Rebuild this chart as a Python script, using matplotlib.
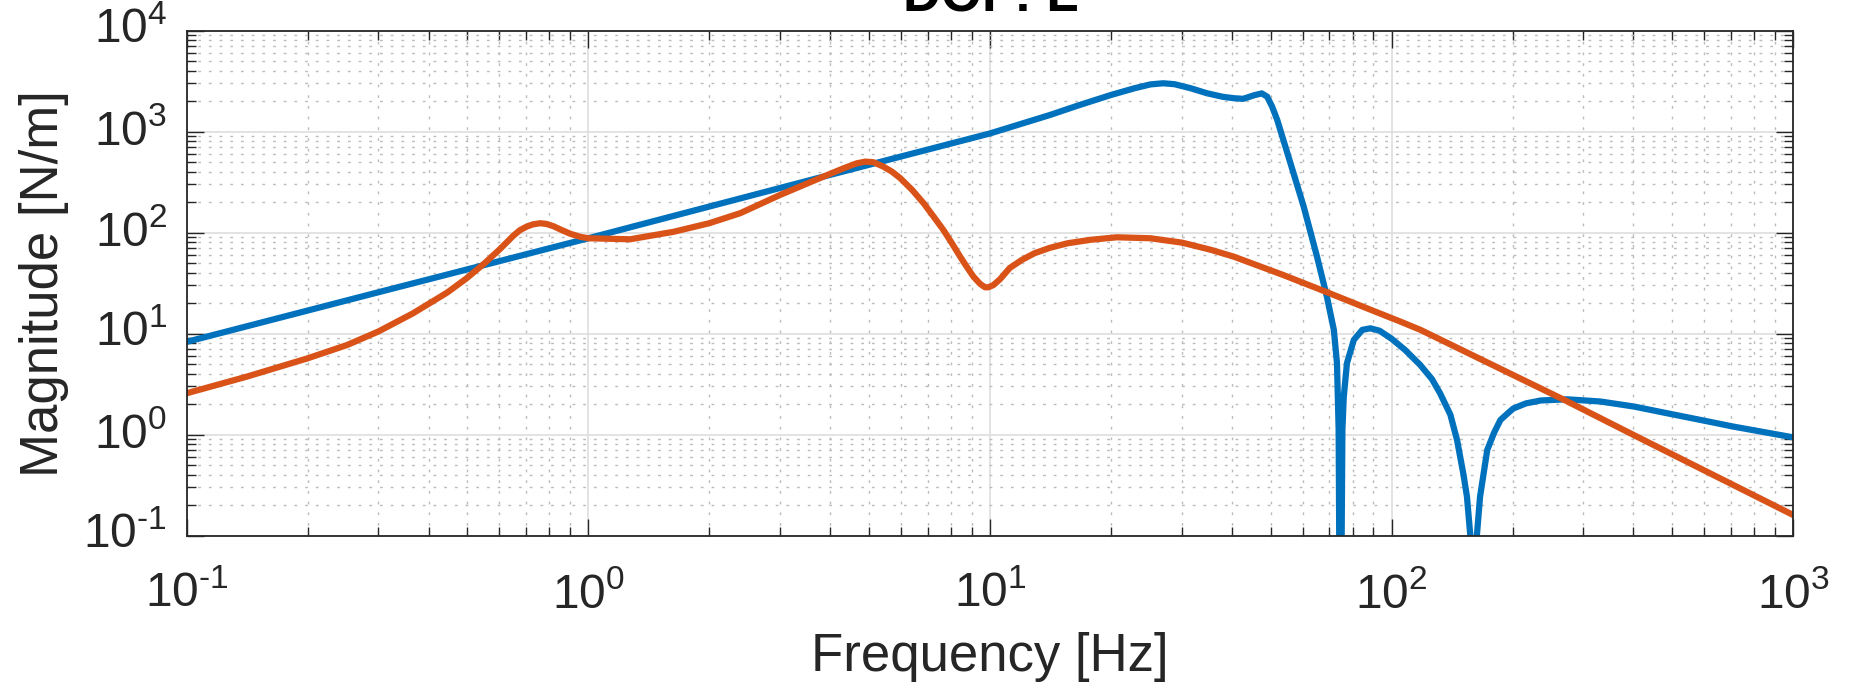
import matplotlib
matplotlib.use('Agg')
import matplotlib.pyplot as plt
from matplotlib.ticker import LogLocator, NullFormatter, FuncFormatter
import math

plt.rcParams['font.family'] = ['Liberation Sans', 'DejaVu Sans']
plt.rcParams['mathtext.fontset'] = 'custom'
plt.rcParams['mathtext.rm'] = 'Liberation Sans'
plt.rcParams['mathtext.it'] = 'Liberation Sans:italic'
plt.rcParams['mathtext.bf'] = 'Liberation Sans:bold'
plt.rcParams['lines.scale_dashes'] = False

# values (Hz, N/m); notch bottoms fall below the axis
freq_blue = [0.1, 0.3, 1.0, 3.85, 10, 14.1, 16.6, 20, 22.9, 25.1, 27, 28.8,
             31.6, 34.7, 38, 40.5, 42.7, 45.4, 47.5, 49, 50.4, 51.9, 56, 60.4,
             65.2, 69, 71.8, 73.1, 73.8, 74.5, 75.4, 76.0, 77.4, 80.5, 84.5,
             88.5, 93.3, 100, 108, 117.8, 126, 132, 140, 145.5, 151, 154, 157,
             160, 163, 166, 173, 180, 186.6, 195, 201, 216, 235, 273.5, 331,
             401, 485, 587, 711, 1000]
mag_blue = [8.3, 25.7, 88, 359, 960, 1462, 1820, 2307, 2690, 2938, 3013, 2951,
            2690, 2399, 2213, 2143, 2113, 2290, 2393, 2218, 1770, 1306, 486, 181,
            57.8, 23.2, 10.9, 5.1, 1.11, 0.001, 1.11, 2.38, 5.1, 8.67, 10.9,
            11.3, 10.7, 8.9, 6.9, 4.9, 3.55, 2.57, 1.58, 0.885, 0.4, 0.243, 0.1,
            0.001, 0.1, 0.243, 0.706, 1.05, 1.40, 1.64, 1.82, 2.04, 2.18, 2.24, 2.13,
            1.90, 1.63, 1.40, 1.20, 0.94]

freq_red = [0.1, 0.141, 0.2, 0.251, 0.3, 0.366, 0.445, 0.498, 0.553, 0.603,
            0.650, 0.676, 0.703, 0.729, 0.759, 0.787, 0.818, 0.859, 0.902, 0.955,
            1.0, 1.27, 1.63, 2.0, 2.39, 3.0, 3.85, 4.32, 4.66, 4.89, 5.13, 5.43,
            5.70, 5.98, 6.40, 6.84, 7.24, 7.66, 8.04, 8.43, 8.77, 9.10, 9.46,
            9.72, 9.91, 10.2, 10.6, 11.2, 12.0, 12.9, 14.1, 15.6, 17.8, 20.7,
            25.1, 30.1, 35.5, 40.5, 53.8, 68.4, 86.9, 105, 118, 269, 401, 1000]
mag_red = [2.57, 3.75, 5.70, 7.73, 10.5, 15.9, 25.5, 35.4, 50.2, 69,
           93, 106, 115, 121, 124, 122, 116, 106, 97.5, 91,
           88, 86, 102, 124, 156, 236, 359, 434, 486, 505, 498, 450,
           402, 346, 265, 195, 144, 106, 78.5, 57.8, 45.4, 36.6, 31.0,
           28.8, 28.8, 30.3, 34.7, 44.7, 53.7, 62.5, 70.8, 78.5, 85, 90,
           88, 79.6, 67.6, 57.8, 38, 26.1, 17.8, 13.2, 10.9, 2.21, 0.99, 0.16]


def decade_label(v, pos):
    e = int(round(math.log10(v)))
    s = str(e).replace('-', '\u2010')
    return r'$\mathregular{10^{%s}}$' % s


fig = plt.figure(figsize=(18.52, 6.92), dpi=100)
ax = fig.add_axes([0.1008, 0.2259, 0.8675, 0.7298])

ax.plot(freq_blue, mag_blue, color='#0072BD', lw=4.5)
ax.plot(freq_red, mag_red, color='#D95319', lw=4.5)

ax.set_xscale('log')
ax.set_yscale('log')
ax.set_xlim(0.1, 1000)
ax.set_ylim(0.1, 1e4)

ax.xaxis.set_major_locator(LogLocator(base=10, numticks=20))
ax.yaxis.set_major_locator(LogLocator(base=10, numticks=20))
ax.xaxis.set_minor_locator(LogLocator(base=10, subs=range(2, 10), numticks=50))
ax.yaxis.set_minor_locator(LogLocator(base=10, subs=range(2, 10), numticks=50))
ax.xaxis.set_major_formatter(FuncFormatter(decade_label))
ax.yaxis.set_major_formatter(FuncFormatter(decade_label))
ax.xaxis.set_minor_formatter(NullFormatter())
ax.yaxis.set_minor_formatter(NullFormatter())

ax.set_axisbelow(True)
ax.grid(which='major', color='#dedede', lw=1.2, ls='-')
ax.grid(which='minor', color='#bcbcbc', lw=1.0, ls=(0, (2, 5.7)))

ax.tick_params(which='both', direction='in', top=True, right=True,
               color='#262626', width=1.0, labelcolor='#262626')
ax.tick_params(which='major', length=12, labelsize=34.5)
ax.tick_params(axis='x', which='major', pad=26)
ax.tick_params(axis='y', which='major', pad=14)
ax.tick_params(which='minor', length=6.3)
for lab in ax.get_yticklabels():
    lab.set_verticalalignment('center')
for sp in ax.spines.values():
    sp.set_color('#262626')
    sp.set_linewidth(1.3)

ax.set_xlabel('Frequency [Hz]', fontsize=38, color='#262626')
ax.set_ylabel('Magnitude [N/m]', fontsize=38, color='#262626')
ax.xaxis.set_label_coords(0.5, -0.19)
ax.yaxis.set_label_coords(-0.0735, 0.5)

fig.text(0.5347, 1 - 12 / 692, 'DOF: L', ha='center', va='baseline',
         fontsize=38, fontweight='bold', color='black')

fig.savefig('out.png', dpi=100)
